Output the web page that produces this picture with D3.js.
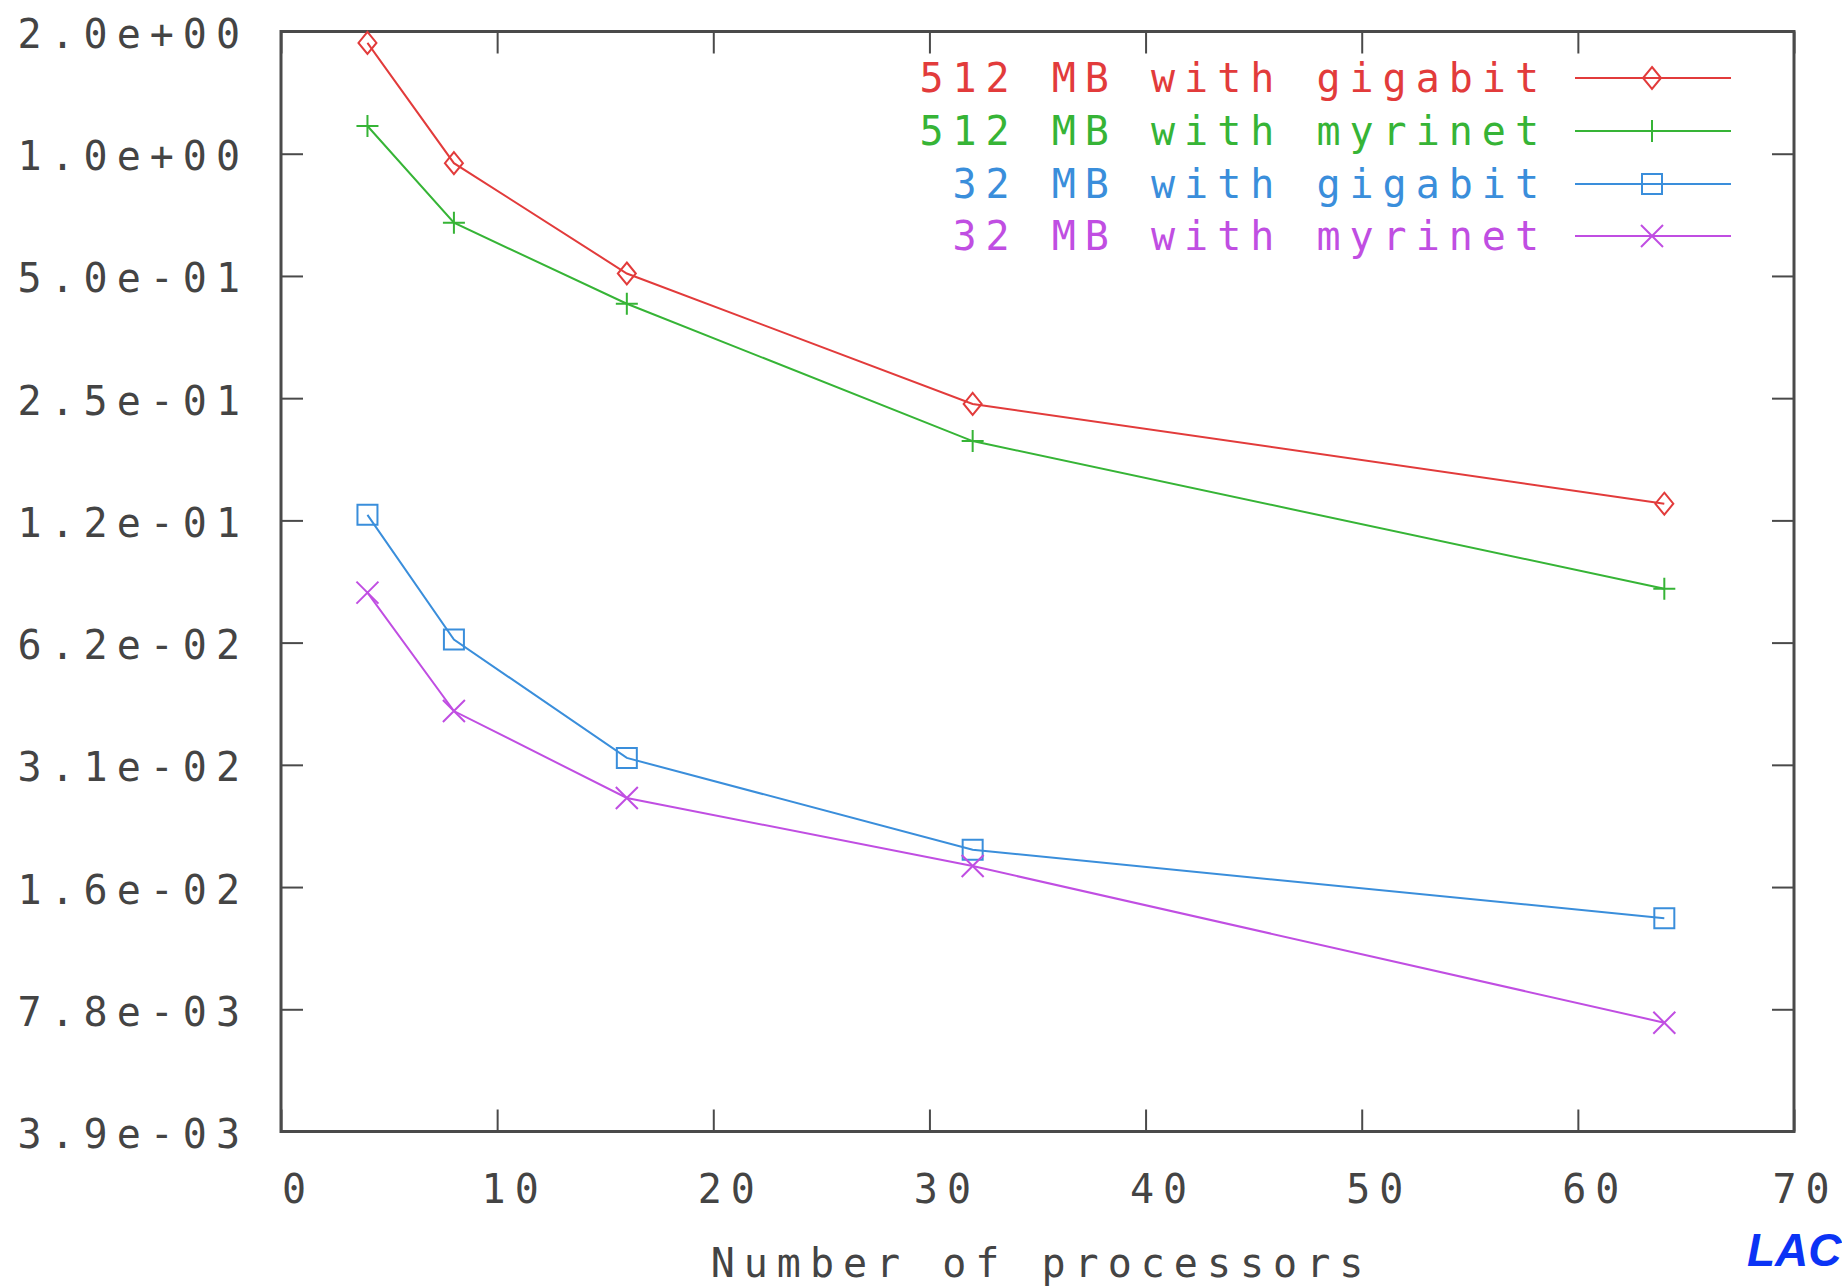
<!DOCTYPE html>
<html>
<head>
<meta charset="utf-8">
<script src="https://cdn.jsdelivr.net/npm/d3@7"></script>
<style>
  body { margin: 0; background: #fff; }
  svg { display: block; }
</style>
</head>
<body>
<svg width="1842" height="1287"></svg>
<script>
// processors on x, time (log2 scale) on y
const processors = [4, 8, 16, 32, 64];
const gigabit512 = [1.875, 0.948, 0.507, 0.242, 0.1374];
const myrinet512 = [1.17, 0.676, 0.427, 0.196, 0.0848];
const gigabit32 = [0.129, 0.0636, 0.0325, 0.0193, 0.0131];
const myrinet32 = [0.083, 0.0424, 0.0259, 0.0176, 0.00724];

const seriesNames = ["512 MB with gigabit", "512 MB with myrinet", "32 MB with gigabit", "32 MB with myrinet"];
const xTicks = [0, 10, 20, 30, 40, 50, 60, 70];
const yTicks = [2, 1, 0.5, 0.25, 0.125, 0.0625, 0.03125, 0.015625, 0.0078125, 0.00390625];
const yTickLabels = ["2.0e+00", "1.0e+00", "5.0e-01", "2.5e-01", "1.2e-01", "6.2e-02", "3.1e-02", "1.6e-02", "7.8e-03", "3.9e-03"];

const colors = ["#e23b3b", "#36b436", "#3a8edb", "#c04ee2"];
const shapes = ["diamond", "plus", "square", "cross"];

const margin = { top: 31.5, right: 48, bottom: 155.5, left: 281 };
const width = 1842;
const height = 1287;
const svg = d3.select("svg");

const font = "'DejaVu Sans Mono', monospace";
const frameColor = "#4a4a4a";
const textColor = "#444";

const xScale = d3.scaleLinear()
  .domain([0, 70])
  .range([margin.left, width - margin.right]);

const yScale = d3.scaleLog()
  .base(2)
  .domain([yTicks[yTicks.length - 1], yTicks[0]])
  .range([height - margin.bottom, margin.top]);

const styleAxis = g => {
  g.select(".domain").remove();
  g.selectAll(".tick line").attr("stroke", frameColor).attr("stroke-width", 2);
  g.selectAll(".tick text")
    .attr("fill", textColor)
    .style("font-family", font)
    .style("font-size", "40px")
    .style("letter-spacing", "9px");
};

// bottom axis with labels (last one kept inside the page)
svg.append("g")
  .attr("transform", "translate(" + [0, yScale.range()[0]] + ")")
  .call(d3.axisBottom(xScale).tickValues(xTicks).tickSize(-22).tickPadding(43).tickFormat(d3.format("d")))
  .call(styleAxis)
  .call(g => g.selectAll(".tick text").attr("dx", d => d === 70 ? 11 : 17));

// top axis, ticks only
svg.append("g")
  .attr("transform", "translate(" + [0, yScale.range()[1]] + ")")
  .call(d3.axisTop(xScale).tickValues(xTicks).tickSize(-22).tickFormat(""))
  .call(styleAxis);

// left axis with labels
svg.append("g")
  .attr("transform", "translate(" + [xScale.range()[0], 0] + ")")
  .call(d3.axisLeft(yScale).tickValues(yTicks).tickSize(-22).tickPadding(32).tickFormat((d, i) => yTickLabels[i]))
  .call(styleAxis)
  .call(g => g.selectAll(".tick text").attr("dy", "0.4em"));

// right axis, ticks only
svg.append("g")
  .attr("transform", "translate(" + [xScale.range()[1], 0] + ")")
  .call(d3.axisRight(yScale).tickValues(yTicks).tickSize(-22).tickFormat(""))
  .call(styleAxis);

// frame
svg.append("rect")
  .attr("x", xScale.range()[0])
  .attr("y", yScale.range()[1])
  .attr("width", xScale.range()[1] - xScale.range()[0])
  .attr("height", yScale.range()[0] - yScale.range()[1])
  .attr("fill", "none")
  .attr("stroke", frameColor)
  .attr("stroke-width", 3);

const markerPath = (shape, cx, cy) => {
  const p = d3.path();
  if (shape === "diamond") {
    p.moveTo(cx, cy - 11); p.lineTo(cx + 9, cy); p.lineTo(cx, cy + 11); p.lineTo(cx - 9, cy); p.closePath();
  } else if (shape === "plus") {
    p.moveTo(cx - 11, cy); p.lineTo(cx + 11, cy); p.moveTo(cx, cy - 11); p.lineTo(cx, cy + 11);
  } else if (shape === "square") {
    p.rect(cx - 10, cy - 10, 20, 20);
  } else {
    p.moveTo(cx - 11, cy - 11); p.lineTo(cx + 11, cy + 11); p.moveTo(cx - 11, cy + 11); p.lineTo(cx + 11, cy - 11);
  }
  return p.toString();
};

const allSeries = [gigabit512, myrinet512, gigabit32, myrinet32];
const line = d3.line()
  .x(d => xScale(d[0]))
  .y(d => yScale(d[1]));

allSeries.forEach((values, i) => {
  const pts = processors.map((p, j) => [p, values[j]]);
  const g = svg.append("g");
  g.append("path")
    .datum(pts)
    .attr("d", line)
    .attr("fill", "none")
    .attr("stroke", colors[i])
    .attr("stroke-width", 2);
  g.selectAll("path.mk")
    .data(pts)
    .enter()
    .append("path")
    .attr("class", "mk")
    .attr("d", d => markerPath(shapes[i], xScale(d[0]), yScale(d[1])))
    .attr("fill", "none")
    .attr("stroke", colors[i])
    .attr("stroke-width", 2);
});

// legend
const legendRows = [78, 131, 184, 236];
const legend = svg.append("g");
seriesNames.forEach((name, i) => {
  const y = legendRows[i];
  legend.append("text")
    .attr("x", 1548)
    .attr("y", y + 14)
    .attr("text-anchor", "end")
    .attr("fill", colors[i])
    .style("font-family", font)
    .style("font-size", "40px")
    .style("letter-spacing", "9px")
    .text(name);
  legend.append("line")
    .attr("x1", 1575).attr("x2", 1731)
    .attr("y1", y).attr("y2", y)
    .attr("stroke", colors[i])
    .attr("stroke-width", 2);
  legend.append("path")
    .attr("d", markerPath(shapes[i], 1652, y))
    .attr("fill", "none")
    .attr("stroke", colors[i])
    .attr("stroke-width", 2);
});

// x axis title
svg.append("text")
  .attr("x", (xScale.range()[0] + xScale.range()[1]) / 2 + 4)
  .attr("y", 1277)
  .attr("text-anchor", "middle")
  .attr("fill", textColor)
  .style("font-family", font)
  .style("font-size", "40px")
  .style("letter-spacing", "9px")
  .text("Number of processors");

svg.append("text")
  .attr("x", 1747)
  .attr("y", 1266)
  .attr("fill", "#0b33f5")
  .style("font-family", "'Liberation Sans', Arial, sans-serif")
  .style("font-weight", "bold")
  .style("font-style", "italic")
  .style("font-size", "46px")
  .text("LAC");
</script>
</body>
</html>
